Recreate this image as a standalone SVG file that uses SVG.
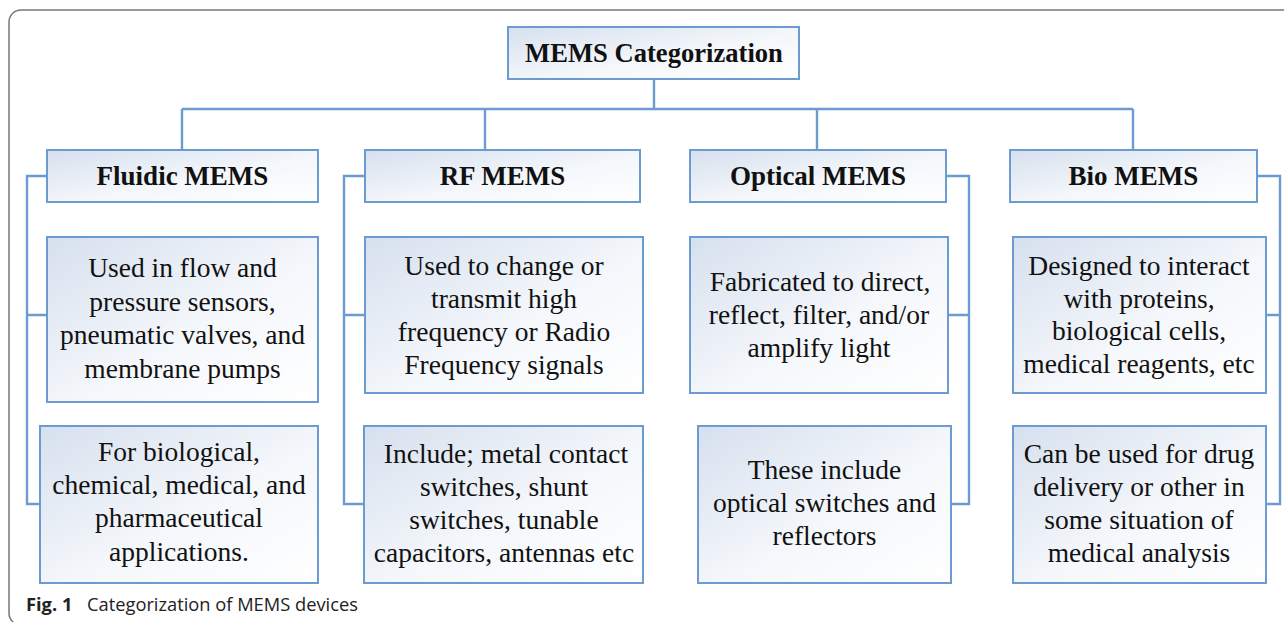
<svg xmlns="http://www.w3.org/2000/svg" width="1284" height="622" viewBox="0 0 1284 622">
<defs>
<linearGradient id="bg" x1="0" y1="0" x2="1" y2="1">
<stop offset="0" stop-color="#d6e0ee"/>
<stop offset="0.55" stop-color="#f4f7fb"/>
<stop offset="1" stop-color="#ffffff"/>
</linearGradient>
<style>
.box{fill:url(#bg);stroke:#6b9bd1;stroke-width:2}
.con{fill:none;stroke:#6b9bd1;stroke-width:2.4}
.t{font-family:"Liberation Serif","Times New Roman",serif;fill:#111;text-anchor:middle}
.h{font-weight:bold;font-size:27px}
.d{font-size:27.5px}
.cap{font-family:"Open Sans","Noto Sans",sans-serif;font-size:18.3px;fill:#222}
</style>
</defs>
<rect x="9" y="10" width="1300" height="615" rx="12" fill="#fff" stroke="#777" stroke-width="1.5"/>
<g id="connectors">
<path class="con" d="M654 79V109M182 109H1133M182 109V150M485 109V150M817 109V150M1133 109V150"/>
<path class="con" d="M47 176H27V504H40M27 315H47"/>
<path class="con" d="M365 176H344V504H365M344 315H365"/>
<path class="con" d="M946 176H969V504H951M969 315H948"/>
<path class="con" d="M1257 176H1280V504H1266M1280 315H1266"/>
</g>
<g id="root">
<rect class="box" x="508" y="27" width="291" height="52"/>
<text class="t" x="654" y="62" style="font-weight:bold;font-size:26.6px">MEMS Categorization</text>
</g>
<g id="fluidic">
<rect class="box" x="47" y="150" width="271" height="52"/>
<text class="t h" x="182.5" y="185">Fluidic MEMS</text>
</g>
<g id="rf">
<rect class="box" x="365" y="150" width="275" height="52"/>
<text class="t h" x="502.5" y="185">RF MEMS</text>
</g>
<g id="optical">
<rect class="box" x="690" y="150" width="256" height="52"/>
<text class="t h" x="818" y="185">Optical MEMS</text>
</g>
<g id="bio">
<rect class="box" x="1010" y="150" width="247" height="52"/>
<text class="t h" x="1133.5" y="185">Bio MEMS</text>
</g>
<g id="fluidic-1">
<rect class="box" x="47" y="237" width="271" height="165"/>
<text class="t d" x="182.5"><tspan x="182.5" y="277">Used in flow and</tspan><tspan x="182.5" y="310.5">pressure sensors,</tspan><tspan x="182.5" y="344">pneumatic valves, and</tspan><tspan x="182.5" y="377.5">membrane pumps</tspan></text>
</g>
<g id="fluidic-2">
<rect class="box" x="40" y="426" width="278" height="157"/>
<text class="t d" x="179"><tspan x="179" y="461">For biological,</tspan><tspan x="179" y="494">chemical, medical, and</tspan><tspan x="179" y="527">pharmaceutical</tspan><tspan x="179" y="561">applications.</tspan></text>
</g>
<g id="rf-1">
<rect class="box" x="365" y="237" width="278" height="156"/>
<text class="t d" x="504"><tspan x="504" y="275">Used to change or</tspan><tspan x="504" y="308">transmit high</tspan><tspan x="504" y="341">frequency or Radio</tspan><tspan x="504" y="374">Frequency signals</tspan></text>
</g>
<g id="rf-2">
<rect class="box" x="364" y="426" width="279" height="157"/>
<text class="t d" x="504"><tspan x="506" y="463">Include; metal contact</tspan><tspan x="504" y="495.5">switches, shunt</tspan><tspan x="504" y="528.5">switches, tunable</tspan><tspan x="504" y="562">capacitors, antennas etc</tspan></text>
</g>
<g id="optical-1">
<rect class="box" x="690" y="237" width="258" height="156"/>
<text class="t d" x="819"><tspan x="820" y="290.5">Fabricated to direct,</tspan><tspan x="819" y="323.5">reflect, filter, and/or</tspan><tspan x="819" y="356.5">amplify light</tspan></text>
</g>
<g id="optical-2">
<rect class="box" x="698" y="426" width="253" height="157"/>
<text class="t d" x="824.5"><tspan x="824.5" y="479">These include</tspan><tspan x="824.5" y="512">optical switches and</tspan><tspan x="824.5" y="545">reflectors</tspan></text>
</g>
<g id="bio-1">
<rect class="box" x="1013" y="237" width="253" height="156"/>
<text class="t d" x="1139"><tspan x="1139" y="275">Designed to interact</tspan><tspan x="1139" y="307.5">with proteins,</tspan><tspan x="1139" y="340">biological cells,</tspan><tspan x="1139" y="372.5">medical reagents, etc</tspan></text>
</g>
<g id="bio-2">
<rect class="box" x="1013" y="426" width="253" height="157"/>
<text class="t d" x="1139"><tspan x="1139" y="463">Can be used for drug</tspan><tspan x="1139" y="495.5">delivery or other in</tspan><tspan x="1139" y="528.5">some situation of</tspan><tspan x="1139" y="561.5">medical analysis</tspan></text>
</g>
<text class="cap" x="26" y="611"><tspan font-weight="bold">Fig. 1</tspan><tspan x="87">Categorization of MEMS devices</tspan></text>
</svg>
